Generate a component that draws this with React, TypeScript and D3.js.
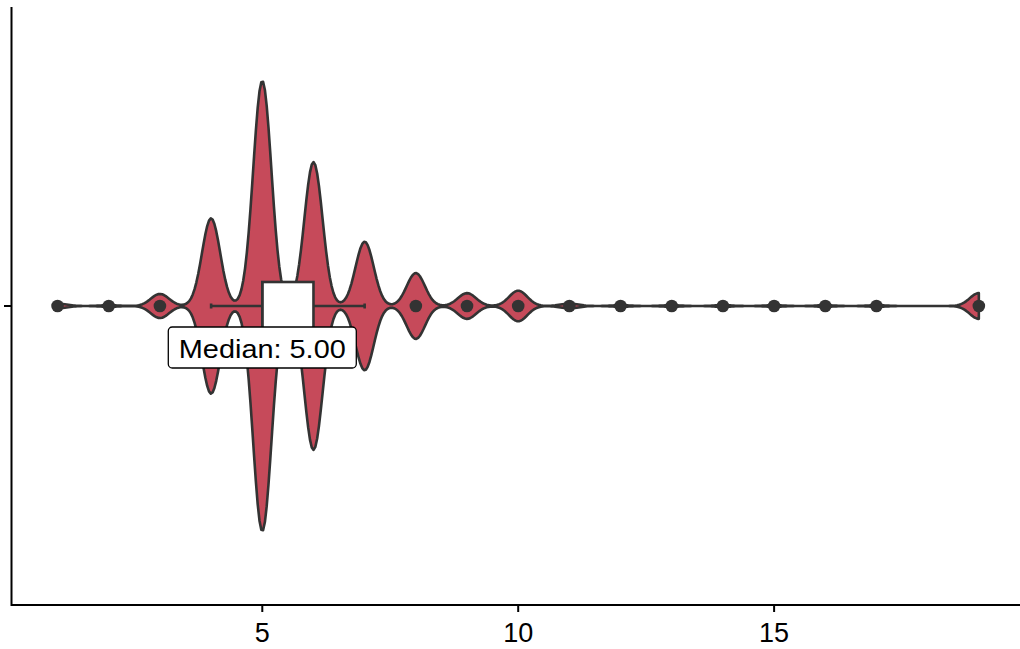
import React from "react";
import * as d3 from "d3";

// ---- data ----
const values = [1, 2, 3, 4, 5, 6, 7, 8, 9, 10, 11, 12, 13, 14, 15, 16, 17, 18, 19];
const counts = [3, 1, 15, 109, 280, 179, 80, 41, 16, 19, 3, 1, 1, 1, 1, 1, 1, 0, 16];
const xTicks = [5, 10, 15];
const groupName = "all";

const W = 1020;
const H = 649;
const panel = { left: 11.5, right: 1024.9, top: 7, bottom: 605 };

export default function App() {
  const data: number[] = [];
  values.forEach((v, i) => {
    for (let k = 0; k < counts[i]; k++) data.push(v);
  });
  data.sort((a, b) => a - b);
  const n = data.length;
  const min = d3.min(data)!;
  const max = d3.max(data)!;
  const expand = (max - min) * 0.05;

  const x = d3.scaleLinear().domain([min - expand, max + expand]).range([panel.left, panel.right]);
  const yBand = d3.scaleLinear().domain([0.4, 1.6]).range([panel.bottom, panel.top]);
  const cy = yBand(1);
  const unit = Math.abs(yBand(1) - yBand(0));

  // stats
  const q1 = d3.quantile(data, 0.25)!;
  const med = d3.quantile(data, 0.5)!;
  const q3 = d3.quantile(data, 0.75)!;
  const iqr = q3 - q1;
  const lo = d3.min(data.filter((d) => d >= q1 - 1.5 * iqr))!;
  const hi = d3.max(data.filter((d) => d <= q3 + 1.5 * iqr))!;
  const outliers = values.filter((v, i) => counts[i] > 0 && (v < lo || v > hi));

  // bandwidth nrd0
  const sd = d3.deviation(data)!;
  const bw = 0.9 * Math.min(sd, iqr / 1.34) * Math.pow(n, -0.2);
  const kde = (t: number) => {
    let s = 0;
    values.forEach((v, i) => {
      const z = (t - v) / bw;
      s += counts[i] * Math.exp(-0.5 * z * z);
    });
    return s / (n * bw * Math.sqrt(2 * Math.PI));
  };
  const grid = d3.range(512).map((i) => min + ((max - min) * i) / 511);
  const dens = grid.map((t) => ({ t, d: kde(t) }));
  const maxD = d3.max(dens, (p) => p.d)!;
  const wScale = d3.scaleLinear().domain([0, maxD]).range([0, 0.45 * unit]);

  const pts: [number, number][] = [
    ...dens.map((p) => [x(p.t), cy - wScale(p.d)] as [number, number]),
    ...dens
      .slice()
      .reverse()
      .map((p) => [x(p.t), cy + wScale(p.d)] as [number, number]),
  ];
  const violinPath = d3.line()(pts)! + "Z";

  const boxHalf = 24;
  const stroke = "#333333";
  const labelW = 188;

  return (
    <svg width={W} height={H} style={{ position: "absolute", left: 0, top: 0, background: "#fff" }}>
      <rect x={0} y={0} width={W} height={H} fill="#ffffff" />
      <path d={violinPath} fill="#C64A5A" stroke={stroke} strokeWidth={2.6} strokeLinejoin="round" />
      {/* whiskers */}
      <line x1={x(lo)} x2={x(q1)} y1={cy} y2={cy} stroke={stroke} strokeWidth={2.6} />
      <line x1={x(q3)} x2={x(hi)} y1={cy} y2={cy} stroke={stroke} strokeWidth={2.6} />
      <line x1={x(lo)} x2={x(lo)} y1={cy - 2.5} y2={cy + 2.5} stroke={stroke} strokeWidth={2.6} />
      <line x1={x(hi)} x2={x(hi)} y1={cy - 2.5} y2={cy + 2.5} stroke={stroke} strokeWidth={2.6} />
      {/* box */}
      <rect x={x(q1)} y={cy - boxHalf} width={x(q3) - x(q1)} height={boxHalf * 2} fill="#ffffff" stroke={stroke} strokeWidth={2.6} />
      <line x1={x(med)} x2={x(med)} y1={cy - boxHalf} y2={cy + boxHalf} stroke={stroke} strokeWidth={2.6} />
      {/* outliers */}
      {outliers.map((v) => (
        <circle key={v} cx={x(v)} cy={cy} r={6.3} fill={stroke} />
      ))}
      {/* median label */}
      <rect x={x(med) - labelW / 2} y={cy + 21} width={labelW} height={41} rx={4} ry={4} fill="#ffffff" stroke="#000" strokeWidth={1.3} />
      <text
        x={x(med)}
        y={cy + 51.5}
        textAnchor="middle"
        fontFamily="'Liberation Sans', Arial, sans-serif"
        fontSize={26}
        textLength={167}
        lengthAdjust="spacingAndGlyphs"
        fill="#000"
      >
        {`Median: ${med.toFixed(2)}`}
      </text>
      {/* axes */}
      <line x1={panel.left} x2={W} y1={panel.bottom} y2={panel.bottom} stroke="#000" strokeWidth={2} />
      <line x1={panel.left} x2={panel.left} y1={panel.top} y2={panel.bottom + 1} stroke="#000" strokeWidth={2} />
      <line x1={panel.left - 7.5} x2={panel.left} y1={cy} y2={cy} stroke="#000" strokeWidth={2} data-group={groupName} />
      {xTicks.map((t) => (
        <g key={t}>
          <line x1={x(t)} x2={x(t)} y1={panel.bottom} y2={panel.bottom + 7} stroke="#000" strokeWidth={2} />
          <text
            x={x(t)}
            y={641.5}
            textAnchor="middle"
            fontFamily="'Liberation Sans', Arial, sans-serif"
            fontSize={27}
            fill="#000"
          >
            {t}
          </text>
        </g>
      ))}
    </svg>
  );
}
